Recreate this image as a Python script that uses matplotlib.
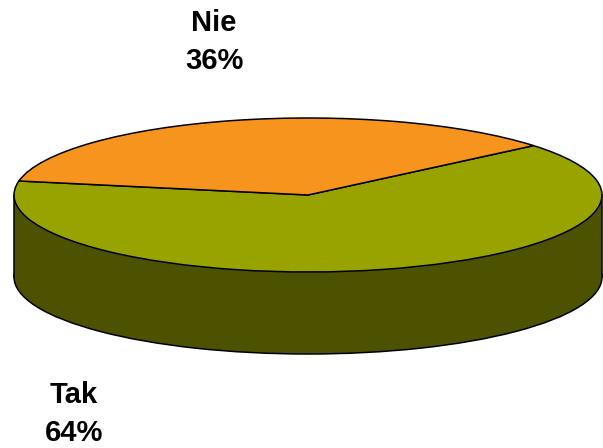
import matplotlib
matplotlib.use("Agg")
import matplotlib.pyplot as plt
from matplotlib.patches import Rectangle

plt.rcParams['font.family'] = ['Liberation Sans', 'DejaVu Sans']

labels = ["Tak", "Nie"]
values = [64, 36]
top_colors = ["#99A300", "#F7941D"]
side_color = "#4D5200"

# pie is drawn with radius 1, the axes limits squash it into an ellipse
px_cx, px_cy = 308, 195
px_rx, px_ry = 294, 77
depth = 82 / px_ry
lw = 1.1

fig = plt.figure(figsize=(6.03, 4.48), dpi=100)
ax = fig.add_axes([0, 0, 1, 1])

# bottom of the cylinder
ax.pie([1], colors=[side_color], center=(0, -depth), radius=1,
       wedgeprops=dict(edgecolor="black", linewidth=lw))
ax.add_patch(Rectangle((-1, -depth), 2, depth, facecolor=side_color, edgecolor="none", zorder=3))
ax.plot([-1, -1], [-depth, 0], color="black", linewidth=lw, zorder=4)
ax.plot([1, 1], [-depth, 0], color="black", linewidth=lw, zorder=4)

# top face
wedges, _ = ax.pie(values, colors=top_colors, startangle=169.5, radius=1,
                   wedgeprops=dict(edgecolor="black", linewidth=lw))
for w in wedges:
    w.set_zorder(5)

ax.set_aspect("auto")
ax.set_xlim(-px_cx / px_rx, (603 - px_cx) / px_rx)
ax.set_ylim((px_cy - 448) / px_ry, px_cy / px_ry)
ax.set_axis_off()

# labels, placed in figure pixels
ax.text(214 / 603, 1 - 42 / 448, f"{labels[1]}\n{values[1]}%", transform=ax.transAxes,
        ha="center", va="center", fontsize=21, fontweight="bold", linespacing=1.45)
ax.text(74 / 603, 1 - 414 / 448, f"{labels[0]}\n{values[0]}%", transform=ax.transAxes,
        ha="center", va="center", fontsize=21, fontweight="bold", linespacing=1.45)

fig.savefig("out.png", dpi=100)
